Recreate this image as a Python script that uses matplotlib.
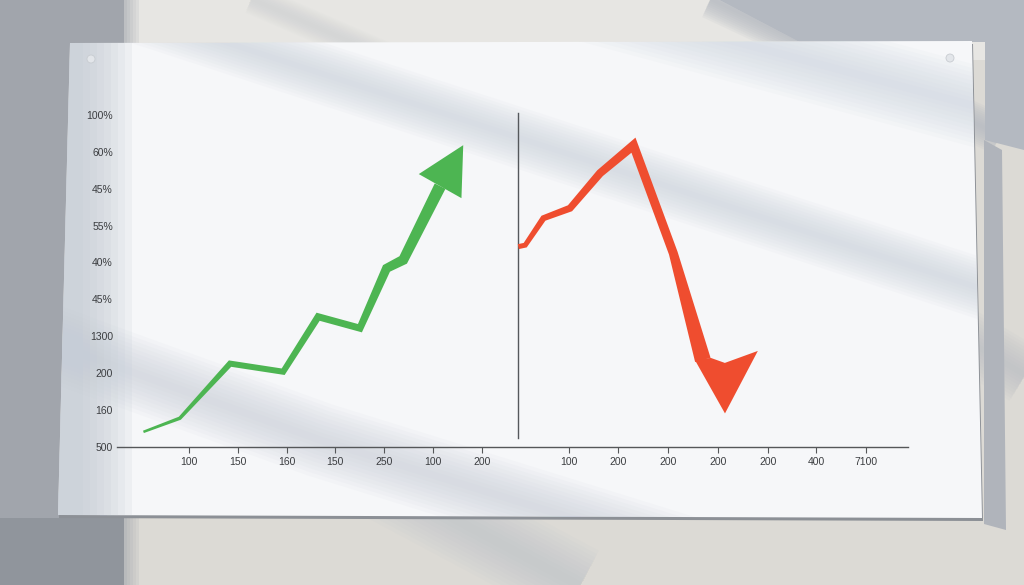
import numpy as np
import matplotlib
matplotlib.use("Agg")
import matplotlib.pyplot as plt
from matplotlib.patches import Polygon, Circle, Rectangle
from matplotlib.transforms import IdentityTransform

# ---------------- data ----------------
y_tick_pos = [0, 1, 2, 3, 4, 5, 6, 7, 8, 9]
y_tick_labels = ["500", "160", "200", "1300", "45%", "40%", "55%", "45%", "60%", "100%"]

x_tick_pos_left = [0.0, 1.0, 2.0, 2.98, 3.97, 4.96, 5.96]
x_tick_labels_left = ["100", "150", "160", "150", "250", "100", "200"]
x_tick_pos_right = [7.72, 8.72, 9.74, 10.76, 11.77, 12.76, 13.76]
x_tick_labels_right = ["100", "200", "200", "200", "200", "400", "7100"]

green_x = [-0.92, -0.18, 0.84, 1.92, 2.63, 3.48, 4.02, 4.36, 5.11]
green_y = [0.41, 0.78, 2.26, 2.04, 3.53, 3.22, 4.84, 5.07, 7.07]
green_tip = (5.58, 8.18)

red_x = [6.70, 6.84, 7.21, 7.75, 8.36, 9.04, 9.85, 10.45]
red_y = [5.43, 5.47, 6.20, 6.47, 7.42, 8.18, 5.25, 2.36]
red_tip = (10.90, 0.91)

divider_x = 6.70
divider_y = (0.24, 9.05)
axis_x_range = (-1.457, 14.62)

# ---------------- style ----------------
W, H = 1024, 585
GREEN = "#4db552"
RED = "#ef4d2f"
INK = "#3b3d40"
green_w = [2.5, 3.5, 6, 6, 7, 7, 9, 10, 12]
red_w = [5, 5, 6, 7, 8, 9, 9, 16]

plt.rcParams["font.family"] = ["Liberation Sans", "DejaVu Sans"]
fig = plt.figure(figsize=(W / 100, H / 100), dpi=100)

# ---------------- background (photo setting) ----------------
bg = fig.add_axes([0, 0, 1, 1], zorder=0)
bg.set_xlim(0, W)
bg.set_ylim(H, 0)
bg.axis("off")


def soft_line(pts, width_px, color, alpha, z, clip=None, n=10):
    xs = [p[0] for p in pts]; ys = [p[1] for p in pts]
    for k in range(n):
        lw = width_px * 0.72 * (k + 1) / n
        ln, = bg.plot(xs, ys, color=color, lw=lw, alpha=alpha / n * 1.5,
                      solid_capstyle="butt", solid_joinstyle="round", zorder=z)
        if clip is not None:
            ln.set_clip_path(clip)


# wall (z < 1)
bg.add_patch(Rectangle((0, 0), W, H, color="#dcdad5", lw=0, zorder=0.1))
bg.add_patch(Rectangle((0, 0), W, 60, color="#e7e6e3", lw=0, zorder=0.15))
bg.add_patch(Polygon([(720, 0), (W, 0), (W, 150), (985, 140), (985, 42), (800, 42)],
                     color="#b4b9c1", lw=0, zorder=0.2))
soft_line([(500, -100), (1000, 135)], 40, "#b4b9c1", 0.8, 0.25)
soft_line([(0, -110), (600, 150)], 30, "#cbcdd0", 0.5, 0.25)
soft_line([(700, 180), (1300, 540)], 60, "#b9bdc3", 0.6, 0.25)
soft_line([(100, 330), (1000, 810)], 80, "#bcc1c8", 0.5, 0.25)
bg.add_patch(Polygon([(984, 140), (1002, 150), (1006, 530), (984, 524)], color="#b0b4bb", lw=0, zorder=0.3))
# left dark band of wall
bg.add_patch(Rectangle((0, 0), 124, H, color="#a1a5ac", lw=0, zorder=0.4))
for k in range(5):
    bg.add_patch(Rectangle((124 + 3 * k, 0), 3, H, color="#a1a5ac", alpha=0.6 - 0.11 * k, lw=0, zorder=0.4))
bg.add_patch(Rectangle((0, 518), 124, 67, color="#90959c", lw=0, zorder=0.45))

# poster with drop shadow (z = 1)
poster_xy = [(70, 43), (972, 41), (982, 518), (58, 515)]
bg.add_patch(Polygon([(p[0] + 1, p[1] + 3) for p in poster_xy], color="#8c9096", lw=0, zorder=0.9))
poster = Polygon(poster_xy, color="#f6f7f9", lw=0, zorder=1)
bg.add_patch(poster)

# shading on the poster (z between 1 and 2)
for k in range(8):
    r = Rectangle((50, 30), 82 - 7 * k, 500, color="#c3cad3", alpha=0.16, lw=0, zorder=1.1)
    bg.add_patch(r); r.set_clip_path(poster)
soft_line([(-100, -64), (1200, 360)], 60, "#c8d0da", 0.55, 1.2, clip=poster)
soft_line([(450, -35), (1250, 180)], 80, "#ccd4de", 0.55, 1.2, clip=poster)
soft_line([(-250, 234), (320, 440), (900, 620)], 75, "#c6cdd7", 0.55, 1.2, clip=poster)

for cx, cy in [(91, 59), (950, 58)]:
    bg.add_patch(Circle((cx, cy), 4, color="#e3e6ea", ec="#c8ccd1", lw=0.6, zorder=1.5))

# ---------------- chart ----------------
ax = fig.add_axes([0, 0, 1, 1], zorder=1)
ax.set_facecolor("none")
ax.set_xlim(-188.7 / 49.2, (W - 188.7) / 49.2)
ax.set_ylim((447 - H) / 36.9, 447 / 36.9)

for s in ["top", "right"]:
    ax.spines[s].set_visible(False)
ax.spines["left"].set_position(("data", axis_x_range[0]))
ax.spines["left"].set_visible(False)
ax.spines["bottom"].set_position(("data", 0))
ax.spines["bottom"].set_bounds(*axis_x_range)
ax.spines["bottom"].set_color("#555759")
ax.spines["bottom"].set_linewidth(1.0)

ax.set_xticks(x_tick_pos_left + x_tick_pos_right)
ax.set_xticklabels(x_tick_labels_left + x_tick_labels_right)
ax.set_yticks(y_tick_pos)
ax.set_yticklabels(y_tick_labels)
ax.tick_params(axis="x", direction="out", length=4, width=0.8, color="#555759",
               labelsize=7.5, labelcolor=INK, pad=3)
ax.tick_params(axis="y", length=0, labelsize=7.5, labelcolor=INK, pad=3)

ax.plot([divider_x, divider_x], divider_y, color="#55585c", lw=1.0, zorder=2)


def taper_poly(xs, ys, widths):
    P = ax.transData.transform(np.column_stack([xs, ys]))
    n = len(P)
    L, R = [], []
    for i in range(n):
        if i == 0 or i == n - 1:
            d = (P[1] - P[0]) if i == 0 else (P[-1] - P[-2])
            d = d / np.linalg.norm(d)
            nv = np.array([-d[1], d[0]])
        else:
            d1 = P[i] - P[i - 1]; d1 /= np.linalg.norm(d1)
            d2 = P[i + 1] - P[i]; d2 /= np.linalg.norm(d2)
            n1 = np.array([-d1[1], d1[0]]); n2 = np.array([-d2[1], d2[0]])
            m = n1 + n2
            m = m / np.linalg.norm(m)
            nv = m / max(np.dot(m, n1), 0.45)
        L.append(P[i] + nv * widths[i] / 2)
        R.append(P[i] - nv * widths[i] / 2)
    return np.vstack([L, R[::-1]]), P


# green rising arrow
gpoly, gP = taper_poly(green_x, green_y, green_w)
ax.add_patch(Polygon(gpoly, closed=True, color=GREEN, lw=0, transform=IdentityTransform(), zorder=3))
base = gP[-1]
tip = ax.transData.transform(green_tip)
d = (tip - base) / np.linalg.norm(tip - base)
nv = np.array([-d[1], d[0]])
hw = 24.5
ax.add_patch(Polygon([base + nv * hw, tip, base - nv * hw], closed=True, color=GREEN, lw=0,
                     transform=IdentityTransform(), zorder=3))

# red falling arrow
rpoly, rP = taper_poly(red_x, red_y, red_w)
ax.add_patch(Polygon(rpoly, closed=True, color=RED, lw=0, transform=IdentityTransform(), zorder=3))
E = rP[-1]
T = ax.transData.transform(red_tip)
head = [E + np.array([-8, 0]), T, E + np.array([55, 9]), E + np.array([22, -3]), E + np.array([8, 2])]
ax.add_patch(Polygon(head, closed=True, color=RED, lw=0, transform=IdentityTransform(), zorder=3))

fig.savefig("out.png", dpi=100)
